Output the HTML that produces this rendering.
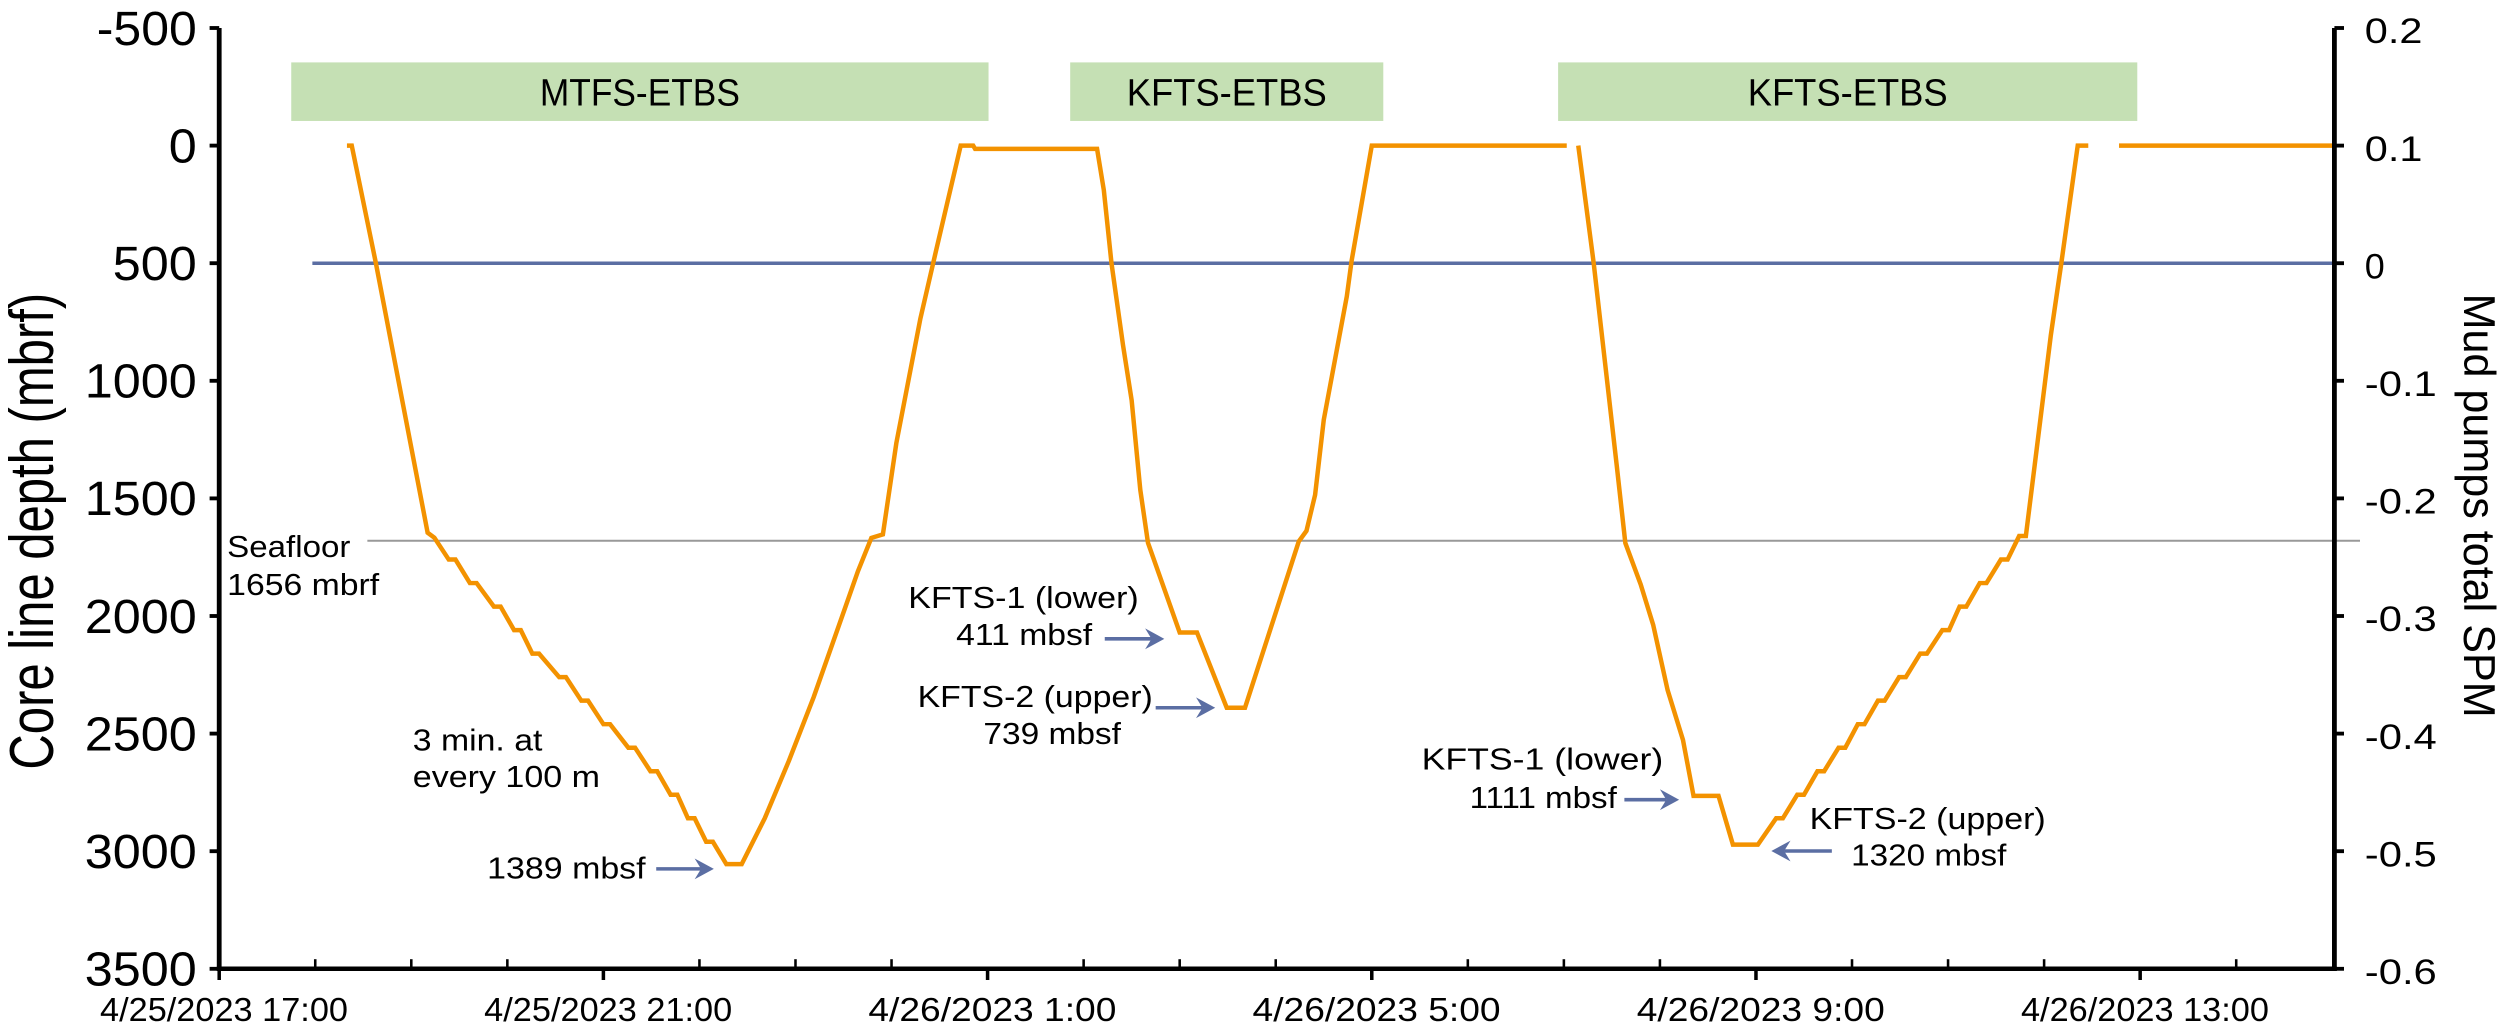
<!DOCTYPE html>
<html><head><meta charset="utf-8"><style>
html,body{margin:0;padding:0;background:#fff;}
svg{display:block;font-family:"Liberation Sans",Arial,sans-serif;}
</style></head><body>
<svg id="chart" width="2502" height="1031" viewBox="0 0 1563.75 644.375" xmlns="http://www.w3.org/2000/svg">
<g id="bars"></g>
<g id="grid"></g>
<g id="series"></g>
<g id="axes"></g>
<text transform="translate(33,332) rotate(-90)" text-anchor="middle" font-size="39" textLength="298" lengthAdjust="spacingAndGlyphs">Core line depth (mbrf)</text>
<text transform="translate(1540,316) rotate(90)" text-anchor="middle" font-size="28" textLength="265" lengthAdjust="spacingAndGlyphs">Mud pumps total SPM</text>
<g font-size="19">
<text x="142" y="348" textLength="77" lengthAdjust="spacingAndGlyphs">Seafloor</text>
<text x="142" y="372" textLength="95" lengthAdjust="spacingAndGlyphs">1656 mbrf</text>
<text x="258" y="469" textLength="81" lengthAdjust="spacingAndGlyphs">3 min. at</text>
<text x="258" y="492" textLength="117" lengthAdjust="spacingAndGlyphs">every 100 m</text>
<text x="304.5" y="549" textLength="99" lengthAdjust="spacingAndGlyphs">1389 mbsf</text>
<text x="567.7" y="380" textLength="144" lengthAdjust="spacingAndGlyphs">KFTS-1 (lower)</text>
<text x="597.6" y="403" textLength="85" lengthAdjust="spacingAndGlyphs">411 mbsf</text>
<text x="573.5" y="442" textLength="147" lengthAdjust="spacingAndGlyphs">KFTS-2 (upper)</text>
<text x="614.6" y="465" textLength="86" lengthAdjust="spacingAndGlyphs">739 mbsf</text>
<text x="888.5" y="481" textLength="151" lengthAdjust="spacingAndGlyphs">KFTS-1 (lower)</text>
<text x="918.5" y="505" textLength="92" lengthAdjust="spacingAndGlyphs">1111 mbsf</text>
<text x="1131" y="518" textLength="147.6" lengthAdjust="spacingAndGlyphs">KFTS-2 (upper)</text>
<text x="1157" y="541" textLength="97" lengthAdjust="spacingAndGlyphs">1320 mbsf</text>
</g>
<g id="arrows"></g>
</svg>
<script>
// ---- data ----
const seg1Hours = [1.33,1.38,1.63,2.17,2.24,2.39,2.46,2.61,2.68,2.86,2.93,3.07,3.14,3.26,3.33,3.54,3.61,3.77,3.84,4.00,4.07,4.26,4.33,4.49,4.56,4.70,4.77,4.88,4.95,5.07,5.14,5.28,5.44,5.68,5.93,6.19,6.51,6.65,6.79,6.91,7.05,7.30,7.46,7.72,7.85,7.87,9.14,9.21,9.29,9.41,9.50,9.59,9.67,10.00,10.18,10.49,10.68,11.24,11.32,11.41,11.50,11.74,11.79,12.00,14.03];
const seg1Depth = [0,0,497,1646,1667,1760,1760,1860,1860,1960,1960,2060,2060,2160,2160,2260,2260,2360,2360,2460,2460,2560,2560,2660,2660,2760,2760,2860,2860,2960,2960,3055,3055,2860,2617,2344,1973,1810,1668,1653,1265,736,453,0,0,14,14,189,500,848,1083,1464,1689,2070,2070,2390,2390,1683,1638,1485,1166,641,490,0,0];
const seg2Hours = [14.15,14.31,14.55,14.64,14.80,14.93,15.08,15.24,15.35,15.61,15.76,16.02,16.21,16.28,16.43,16.50,16.64,16.71,16.86,16.93,17.06,17.13,17.27,17.34,17.49,17.56,17.71,17.78,17.94,18.01,18.12,18.19,18.33,18.40,18.55,18.62,18.74,18.81,18.96,19.07,19.18,19.35,19.46];
const seg2Depth = [0,498,1359,1690,1866,2038,2315,2527,2765,2765,2972,2972,2860,2860,2760,2760,2660,2660,2560,2560,2460,2460,2360,2360,2260,2260,2160,2160,2060,2060,1960,1960,1860,1860,1760,1760,1660,1660,1168,806,497,0,0];
const seg3Hours = [19.78,22.03];
const seg3Depth = [0,0];
const pumpHours = [0.97,22.03];
const pumpValues = [0,0];
const seafloorDepth = 1680;
const barStart = [0.75,8.86,13.94];
const barEnd = [8.01,12.12,19.97];
const barLabels = ["MTFS-ETBS","KFTS-ETBS","KFTS-ETBS"];
const leftTicks = [-500,0,500,1000,1500,2000,2500,3000,3500];
const leftTickLabels = ["-500","0","500","1000","1500","2000","2500","3000","3500"];
const rightTicks = [0.2,0.1,0,-0.1,-0.2,-0.3,-0.4,-0.5,-0.6];
const rightTickLabels = ["0.2","0.1","0","-0.1","-0.2","-0.3","-0.4","-0.5","-0.6"];
const majorHours = [0,4,8,12,16,20];
const majorLabels = ["4/25/2023 17:00","4/25/2023 21:00","4/26/2023 1:00","4/26/2023 5:00","4/26/2023 9:00","4/26/2023 13:00"];
const minorHours = [1,2,3,5,6,7,9,10,11,13,14,15,17,18,19,21];
const arrowTail = [4.55,9.22,9.75,14.63,16.79];
const arrowTip = [5.15,9.84,10.37,15.20,16.16];
const arrowDepth = [3075,2097,2390,2781,2999];

// ---- axes functions ----
const X0=137, PXH=60.03, XEND=1459;
const Y0=91, PXM=0.147;
const x = h => X0 + h*PXH;
const y = d => Y0 + d*PXM;
const yR = v => Y0 + (0.1 - v)*735;
const NS="http://www.w3.org/2000/svg";
function mk(tag, parent){const e=document.createElementNS(NS,tag);parent.appendChild(e);return e;}

const gb=document.getElementById('bars');
barStart.forEach((s,i)=>{
  const r=mk('rect',gb);
  
  
  r.setAttribute('x',x(s));r.setAttribute('y',39);r.setAttribute('width',x(barEnd[i])-x(s));r.setAttribute('height',36.6);r.setAttribute('fill','#c5e0b4');
  const t=mk('text',gb);
  
  
  t.setAttribute('x',(x(s)+x(barEnd[i]))/2);t.setAttribute('y',66);t.setAttribute('text-anchor','middle');t.setAttribute('font-size','24');
  t.setAttribute('textLength','125');t.setAttribute('lengthAdjust','spacingAndGlyphs');
  t.textContent=barLabels[i];
});

const gg=document.getElementById('grid');
const sf=mk('line',gg);


sf.setAttribute('x1',229.6);sf.setAttribute('x2',1475);sf.setAttribute('y1',y(seafloorDepth));sf.setAttribute('y2',y(seafloorDepth));sf.setAttribute('stroke','#999');sf.setAttribute('stroke-width','1.2');
const pl=mk('polyline',gg);


pl.setAttribute('points',pumpHours.map((h,i)=>x(h)+','+yR(pumpValues[i])).join(' '));
pl.setAttribute('fill','none');pl.setAttribute('stroke','#5b6ea3');pl.setAttribute('stroke-width','2.2');

const gs=document.getElementById('series');
[[seg1Hours,seg1Depth],[seg2Hours,seg2Depth],[seg3Hours,seg3Depth]].forEach(([hs,ds])=>{
  const p=mk('polyline',gs);
  
  
  p.setAttribute('points',hs.map((h,i)=>x(h).toFixed(2)+','+y(ds[i]).toFixed(2)).join(' '));
  p.setAttribute('fill','none');p.setAttribute('stroke','#f39200');p.setAttribute('stroke-width','2.8');p.setAttribute('stroke-linejoin','miter');
});

const ga=document.getElementById('arrows');
arrowTail.forEach((t,i)=>{
  const x1=x(t), x2=x(arrowTip[i]), yy=y(arrowDepth[i]);
  const dir = x2>x1?1:-1;
  const l=mk('line',ga);
  
  
  l.setAttribute('x1',x1);l.setAttribute('x2',x2-dir*8);l.setAttribute('y1',yy);l.setAttribute('y2',yy);l.setAttribute('stroke','#5b6ea3');l.setAttribute('stroke-width','2.2');
  const h=mk('polygon',ga);
  
  
  h.setAttribute('points',`${x2},${yy} ${x2-dir*12},${yy-6.5} ${x2-dir*8},${yy} ${x2-dir*12},${yy+6.5}`);
  h.setAttribute('fill','#5b6ea3');
});

const gx=document.getElementById('axes');
function line(x1,y1,x2,y2,w,name){const l=mk('line',gx);
  
  
  l.setAttribute('x1',x1);l.setAttribute('y1',y1);l.setAttribute('x2',x2);l.setAttribute('y2',y2);l.setAttribute('stroke','#000');l.setAttribute('stroke-width',w);return l;}
const yb=y(3500), yt=y(-500);
line(X0,yt,X0,yb+1.3,3,'left-axis-line');
line(XEND,yt,XEND,yb+1.3,3,'right-axis-line');
line(X0-1.5,yb,XEND+1.5,yb,2.8,'x-axis-line');
leftTicks.forEach((v,i)=>{
  line(X0-6,y(v),X0,y(v),2.4,'left-tick');
  const t=mk('text',gx);
  
  
  const s=leftTickLabels[i];
  t.setAttribute('x',123);t.setAttribute('y',y(v)+10.5);t.setAttribute('text-anchor','end');t.setAttribute('font-size','30');
  t.setAttribute('textLength',(s.replace('-','').length*17.5+(s[0]==='-'?10:0)));t.setAttribute('lengthAdjust','spacingAndGlyphs');
  t.textContent=s;
});
rightTicks.forEach((v,i)=>{
  line(XEND,yR(v),XEND+6,yR(v),2.4,'right-tick');
  const t=mk('text',gx);
  
  
  const s=rightTickLabels[i];
  let w=0; for(const c of s){w+= c==='-'?9:(c==='.'?11:12.5);}
  t.setAttribute('x',1478);t.setAttribute('y',yR(v)+9.5);t.setAttribute('font-size','22');
  t.setAttribute('textLength',w);t.setAttribute('lengthAdjust','spacingAndGlyphs');
  t.textContent=s;
});
majorHours.forEach((h,i)=>{
  line(x(h),yb,x(h),yb+7,2.2,'x-major-tick');
  const t=mk('text',gx);
  
  
  t.setAttribute('x',x(h)+3);t.setAttribute('y',638);t.setAttribute('text-anchor','middle');t.setAttribute('font-size','21');
  t.setAttribute('textLength','155');t.setAttribute('lengthAdjust','spacingAndGlyphs');
  t.textContent=majorLabels[i];
});
minorHours.forEach(h=>{ line(x(h),yb-6,x(h),yb,1.6,'x-minor-tick'); });
</script>
</body></html>
